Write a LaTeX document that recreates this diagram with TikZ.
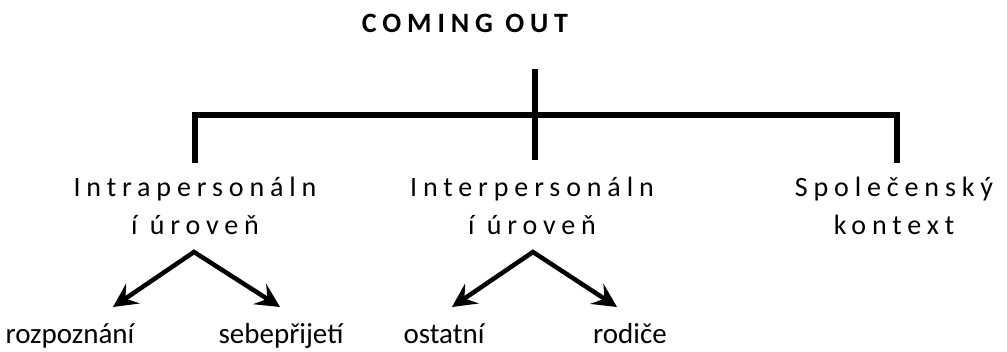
\documentclass[tikz,border=0pt]{standalone}
\usepackage{fontspec}
\setmainfont{Carlito}
\newfontfamily\spacedfont[LetterSpace=21]{Carlito}
\usetikzlibrary{arrows.meta}
\begin{document}
\begin{tikzpicture}[x=1pt,y=-1pt,
  conn/.style={line width=6pt, line join=miter},
  arr/.style={line width=4.5pt, line join=miter, {Stealth[length=24pt,width=24pt,inset=9pt]}-{Stealth[length=24pt,width=24pt,inset=9pt]}},
  lvl/.style={font=\spacedfont\fontsize{28}{38}\selectfont, align=center, inner sep=0pt, anchor=base},
  leaf/.style={font=\fontsize{29}{35}\selectfont, inner sep=0pt, anchor=base},
  ttl/.style={font=\spacedfont\bfseries\fontsize{28}{34}\selectfont, inner sep=0pt, anchor=base}]
\useasboundingbox (0,0) rectangle (1007,352);
\node[ttl] (title) at (465,33) {COMING OUT};
\coordinate (top) at (535,69);
\coordinate (lc) at (195,115);
\coordinate (rc) at (897,115);
\coordinate (ld) at (195,163);
\coordinate (md) at (535,160);
\coordinate (rd) at (897,163);
\draw[conn] (top) -- (md);
\draw[conn] (ld) -- (lc) -- (rc) -- (rd);
\node[lvl] (intra) at (195,235) {Intrapersonáln\\í úroveň};
\node[lvl] (inter) at (532,235) {Interpersonáln\\í úroveň};
\node[lvl] (spol) at (894,235) {Společenský\\kontext};
\coordinate (a1) at (194,252);
\coordinate (a1l) at (113,307);
\coordinate (a1r) at (280,307);
\coordinate (a2) at (533,252);
\coordinate (a2l) at (452,307);
\coordinate (a2r) at (617,307);
\draw[arr] (a1l) -- (a1) -- (a1r);
\draw[arr] (a2l) -- (a2) -- (a2r);
\node[leaf] (rozp) at (70,344) {rozpoznání};
\node[leaf] (sebe) at (281,344) {sebepřijetí};
\node[leaf] (ost) at (444,344) {ostatní};
\node[leaf] (rod) at (630,344) {rodiče};
\end{tikzpicture}
\end{document}
